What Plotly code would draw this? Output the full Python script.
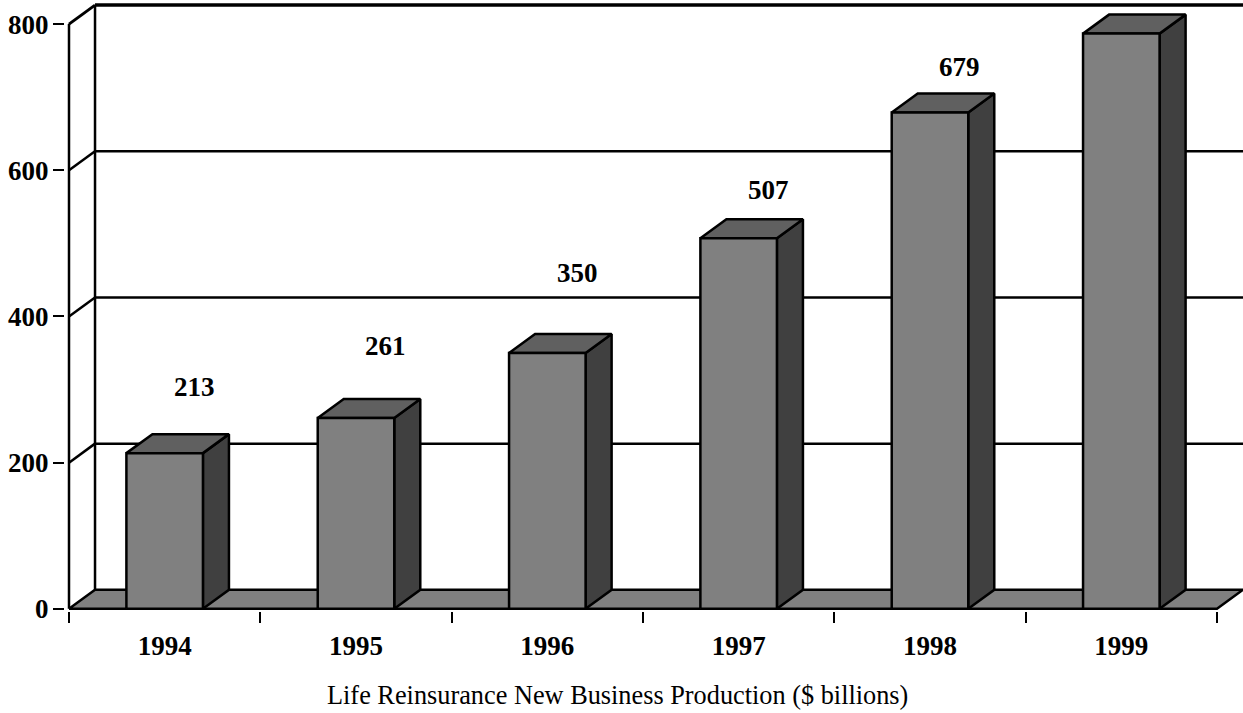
import plotly.graph_objects as go

# ---- data ----
years = ["1994", "1995", "1996", "1997", "1998", "1999"]
values = [213, 261, 350, 507, 679, 787]
label_values = [213, 261, 350, 507, 679]   # 1999 label is cut off in the source
y_ticks = [0, 200, 400, 600, 800]
title_text = "Life Reinsurance New Business Production ($ billions)"

# ---- style ----
BAR_W = 0.4          # bar width in category units
DX = 0.136           # 3D depth, x (category units)
DY = 26.0            # 3D depth, y (value units)
label_shift_y = [66, 72, 80, 48, 46]   # px above front-top of each bar
label_shift_x = 30
FRONT = "#808080"
TOP = "#606060"
SIDE = "#404040"
FLOOR = "#808080"
FONT = "Liberation Serif"
LW = 2.5

fig = go.Figure()


def poly(xs, ys, fill, lw=LW):
    fig.add_trace(go.Scatter(
        x=xs + [xs[0]], y=ys + [ys[0]], mode="lines", fill="toself",
        fillcolor=fill, line=dict(color="black", width=lw),
        hoverinfo="skip", showlegend=False))


def seg(xs, ys, lw=LW):
    fig.add_trace(go.Scatter(
        x=xs, y=ys, mode="lines", line=dict(color="black", width=lw),
        hoverinfo="skip", showlegend=False))


n = len(years)
ymax = max(y_ticks)

# floor
poly([0, n, n + DX, DX], [0, 0, DY, DY], FLOOR)

# back wall gridlines
for g in y_ticks[1:]:
    seg([DX, n + DX], [g + DY, g + DY], 3.5 if g == ymax else LW)

# left wall
seg([0, 0], [0, ymax])
seg([DX, DX], [DY, ymax + DY])
for g in y_ticks[1:]:
    seg([0, DX], [g, g + DY], 3 if g == ymax else LW)

# bars
for i, v in enumerate(values):
    c = i + 0.5
    x0, x1 = c - BAR_W / 2, c + BAR_W / 2
    poly([x1, x1 + DX, x1 + DX, x1], [0, DY, v + DY, v], SIDE)
    poly([x0, x1, x1 + DX, x0 + DX], [v, v, v + DY, v + DY], TOP)
    poly([x0, x1, x1, x0], [0, 0, v, v], FRONT)

# value labels
for i, v in enumerate(label_values):
    fig.add_annotation(
        x=i + 0.5, y=v, xref="x", yref="y", text=str(v), showarrow=False,
        xshift=label_shift_x, yshift=label_shift_y[i], yanchor="middle",
        font=dict(family=FONT, size=27, color="black", weight="bold"))

# caption
fig.add_annotation(
    x=0.469, y=-0.1375, xref="paper", yref="paper", text=title_text,
    showarrow=False, xanchor="center", yanchor="middle",
    font=dict(family=FONT, size=26.3, color="black"))

fig.update_layout(
    template="none",
    width=1243, height=713,
    margin=dict(l=65, r=0, t=0, b=102),
    paper_bgcolor="white", plot_bgcolor="white",
    font=dict(family=FONT, color="black"),
    showlegend=False,
    xaxis=dict(
        range=[-0.0209, n + DX], showgrid=False, zeroline=False,
        showline=False, automargin=False,
        tickmode="array", tickvals=[i + 0.5 for i in range(n)], ticktext=years,
        ticks="outside", ticklen=11, tickcolor="rgba(0,0,0,0)",
        tickfont=dict(family=FONT, size=27, color="black", weight="bold"),
        minor=dict(tickmode="array", tickvals=list(range(n + 1)),
                   ticks="outside", ticklen=11, tickwidth=2,
                   tickcolor="black", showgrid=False),
        fixedrange=True,
    ),
    yaxis=dict(
        range=[-3, 833], showgrid=False, zeroline=False, showline=False,
        automargin=False,
        tickmode="array", tickvals=y_ticks, ticktext=[str(t) for t in y_ticks],
        ticks="outside", ticklen=11, tickwidth=2, tickcolor="black",
        ticklabelstandoff=-1,
        tickfont=dict(family=FONT, size=27, color="black", weight="bold"),
        fixedrange=True,
    ),
)

fig.write_html("out.html")
